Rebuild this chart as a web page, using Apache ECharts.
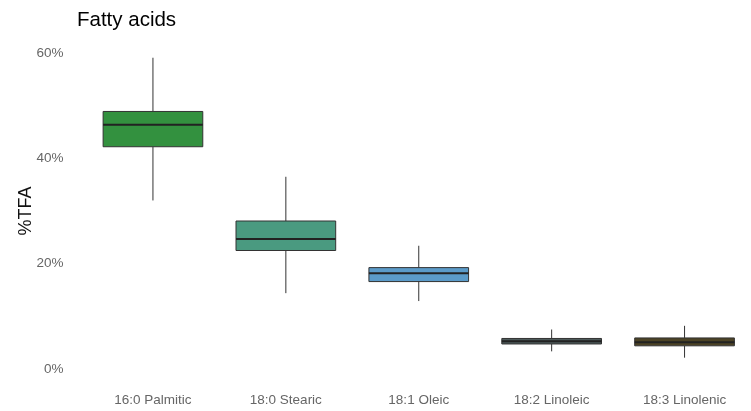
<!DOCTYPE html>
<html>
<head>
<meta charset="utf-8">
<script src="https://cdn.jsdelivr.net/npm/echarts@6/dist/echarts.min.js"></script>
<style>html,body{margin:0;padding:0;background:#fff}#c{width:751px;height:411px}</style>
</head>
<body>
<div id="c"></div>
<script>
var categories = ['16:0 Palmitic', '18:0 Stearic', '18:1 Oleic', '18:2 Linoleic', '18:3 Linolenic'];
// [lower whisker, Q1, median, Q3, upper whisker] in %TFA
var lowerWhisker = [32.0, 14.4, 12.9, 3.35, 2.15];
var q1 = [42.2, 22.5, 16.6, 4.75, 4.4];
var median = [46.4, 24.7, 18.2, 5.25, 5.1];
var q3 = [48.9, 28.1, 19.25, 5.8, 5.9];
var upperWhisker = [59.1, 36.5, 23.4, 7.5, 8.2];
var fillColors = ['#33913f', '#4a9a80', '#5b9bc9', '#4d5a5a', '#4c4326'];
var yTicks = [0, 20, 40, 60];

var data = categories.map(function (c, i) {
  return [i, lowerWhisker[i], q1[i], median[i], q3[i], upperWhisker[i]];
});

var chart = echarts.init(document.getElementById('c'), null, {renderer: 'canvas'});
chart.setOption({
  animation: false,
  title: {
    text: 'Fatty acids', left: 72, top: 5,
    textStyle: {fontFamily: 'Liberation Sans', fontSize: 20.5, fontWeight: 'normal', color: '#000'}
  },
  grid: {left: 86.5, right: 0, top: 53, bottom: 42},
  xAxis: {
    type: 'category', data: categories,
    axisLine: {show: false}, axisTick: {show: false}, splitLine: {show: false},
    axisLabel: {margin: 24, fontFamily: 'Liberation Sans', fontSize: 13.5, color: '#666'}
  },
  yAxis: {
    type: 'value', min: 0, max: 60, interval: 20,
    name: '%TFA', nameLocation: 'middle', nameGap: 51, nameRotate: 90, nameMoveOverlap: false,
    nameTextStyle: {fontFamily: 'Liberation Sans', fontSize: 18, color: '#111'},
    axisLine: {show: false}, axisTick: {show: false}, splitLine: {show: false},
    axisLabel: {
      margin: 23, fontFamily: 'Liberation Sans', fontSize: 13.5, color: '#666',
      formatter: function (v) { return yTicks.indexOf(v) >= 0 ? v + '%' : ''; }
    }
  },
  series: [{
    type: 'custom',
    data: data,
    encode: {x: 0, y: [1, 2, 3, 4, 5]},
    renderItem: function (params, api) {
      var i = api.value(0);
      var bw = api.size([1, 0])[0] * 0.75;
      var lo = api.coord([i, api.value(1)]);
      var pq1 = api.coord([i, api.value(2)]);
      var pm = api.coord([i, api.value(3)]);
      var pq3 = api.coord([i, api.value(4)]);
      var hi = api.coord([i, api.value(5)]);
      var x = lo[0];
      var stroke = '#333';
      return {
        type: 'group',
        children: [
          {type: 'line', shape: {x1: x, y1: hi[1], x2: x, y2: pq3[1]}, style: {stroke: stroke, lineWidth: 1}},
          {type: 'line', shape: {x1: x, y1: pq1[1], x2: x, y2: lo[1]}, style: {stroke: stroke, lineWidth: 1}},
          {type: 'rect', shape: {x: x - bw / 2, y: pq3[1], width: bw, height: pq1[1] - pq3[1]},
            style: {fill: fillColors[params.dataIndex], stroke: stroke, lineWidth: 1}},
          {type: 'line', shape: {x1: x - bw / 2, y1: pm[1], x2: x + bw / 2, y2: pm[1]},
            style: {stroke: '#222', lineWidth: 2}}
        ]
      };
    }
  }]
});
</script>
</body>
</html>
